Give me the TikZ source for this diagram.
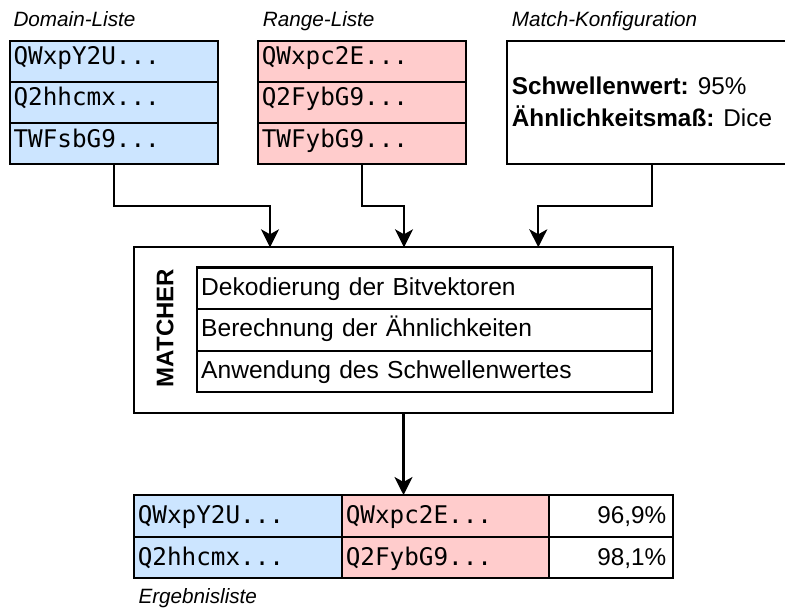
\documentclass[tikz,border=0pt]{standalone}
\usepackage{fontspec}
\setmainfont{Liberation Sans}
\newfontfamily\codefont{DejaVu Sans Mono}
\usetikzlibrary{arrows.meta}
\definecolor{domblue}{RGB}{204,229,255}
\definecolor{rngpink}{RGB}{255,204,204}
\tikzset{
  border/.style={draw=black, line width=2.1pt},
  cell/.style={border, rectangle, inner ysep=0pt, outer sep=0pt, anchor=north west},
  codecell/.style={cell, font=\codefont\fontsize{24.3}{28}\selectfont,
    inner xsep=3.5pt, align=left, minimum height=41.2pt,
    text height=16pt, text depth=9pt},
  listcell/.style={codecell, minimum width=208pt, text width=201pt},
  rescode/.style={cell, font=\codefont\fontsize{24.3}{28}\selectfont,
    inner xsep=3.5pt, align=left, minimum height=41.65pt,
    text height=17pt, text depth=1pt},
  resnum/.style={cell, font=\fontsize{24.3}{28}\selectfont,
    inner xsep=7pt, align=right, minimum height=41.65pt,
    minimum width=124.3pt, text width=110.3pt,
    text height=17pt, text depth=1pt},
  steprow/.style={cell, font=\fontsize{24.6}{28}\selectfont,
    inner xsep=4.5pt, align=left, minimum height=41.6pt,
    minimum width=455.6pt, text width=446.6pt,
    text height=17pt, text depth=3pt},
  heading/.style={anchor=base west, inner sep=0pt,
    font=\itshape\fontsize{20.7}{25}\selectfont},
  cfgline/.style={anchor=base west, inner sep=0pt,
    font=\fontsize{24.3}{28}\selectfont},
  conn/.style={draw=black, line width=2.1pt,
    -{Stealth[length=18pt, width=18pt, inset=5pt]}},
}
\begin{document}
\begin{tikzpicture}[x=1pt, y=-1pt]
  \useasboundingbox (0,0) rectangle (785,609);
  \clip (0,0) rectangle (785,609);

  % input lists
  \node[heading] (tdom) at (13.3,26.7) {Domain-Liste};
  \node[listcell, fill=domblue] (d1) at (10,40.7) {QWxpY2U...};
  \node[listcell, fill=domblue] (d2) at (10,81.9) {Q2hhcmx...};
  \node[listcell, fill=domblue] (d3) at (10,123.1) {TWFsbG9...};

  \node[heading] (trng) at (262.7,26.7) {Range-Liste};
  \node[listcell, fill=rngpink] (r1) at (258.3,40.7) {QWxpc2E...};
  \node[listcell, fill=rngpink] (r2) at (258.3,81.9) {Q2FybG9...};
  \node[listcell, fill=rngpink] (r3) at (258.3,123.1) {TWFybG9...};

  % match configuration
  \node[heading] (tcfg) at (511.7,26.7) {Match-Konfiguration};
  \node[cell, inner sep=0pt, minimum width=291pt, minimum height=123.6pt] (cfg) at (506.7,40.7) {};
  \node[cfgline] (cfga) at (511.7,95) {\textbf{Schwellenwert:} 95\%};
  \node[cfgline] (cfgb) at (511.7,126.5) {\textbf{Ähnlichkeitsmaß:} Dice};

  % matcher
  \node[cell, inner sep=0pt, minimum width=538.4pt, minimum height=165.4pt] (mat) at (134.3,247.3) {};
  \node[rotate=90, anchor=base, inner sep=0pt, font=\bfseries\fontsize{24}{28}\selectfont] (mlabel) at (173.3,328) {MATCHER};
  \node[steprow] (m1) at (196.7,267.5) {Dekodierung der Bitvektoren};
  \node[steprow] (m2) at (196.7,309.1) {Berechnung der Ähnlichkeiten};
  \node[steprow] (m3) at (196.7,350.7) {Anwendung des Schwellenwertes};

  % result list
  \node[rescode, fill=domblue, minimum width=208pt, text width=201pt] (e11) at (134.3,495) {QWxpY2U...};
  \node[rescode, fill=rngpink, minimum width=206.7pt, text width=199.7pt] (e12) at (342.3,495) {QWxpc2E...};
  \node[resnum] (e13) at (549,495) {96,9\%};
  \node[rescode, fill=domblue, minimum width=208pt, text width=201pt] (e21) at (134.3,536.7) {Q2hhcmx...};
  \node[rescode, fill=rngpink, minimum width=206.7pt, text width=199.7pt] (e22) at (342.3,536.7) {Q2FybG9...};
  \node[resnum] (e23) at (549,536.7) {98,1\%};
  \node[heading] (tres) at (138.3,603) {Ergebnisliste};

  % connectors
  \draw[conn] (d3.south) -- ++(0,41.4) -| ([xshift=-133.5pt]mat.north);
  \draw[conn] (r3.south) -- ++(0,41.4) -| ([xshift=0.5pt]mat.north);
  \draw[conn] (cfg.south) -- ++(0,41.4) -| ([xshift=134.8pt]mat.north);
  \draw[conn] (mat.south) -- (mat.south |- e11.north);
\end{tikzpicture}
\end{document}
